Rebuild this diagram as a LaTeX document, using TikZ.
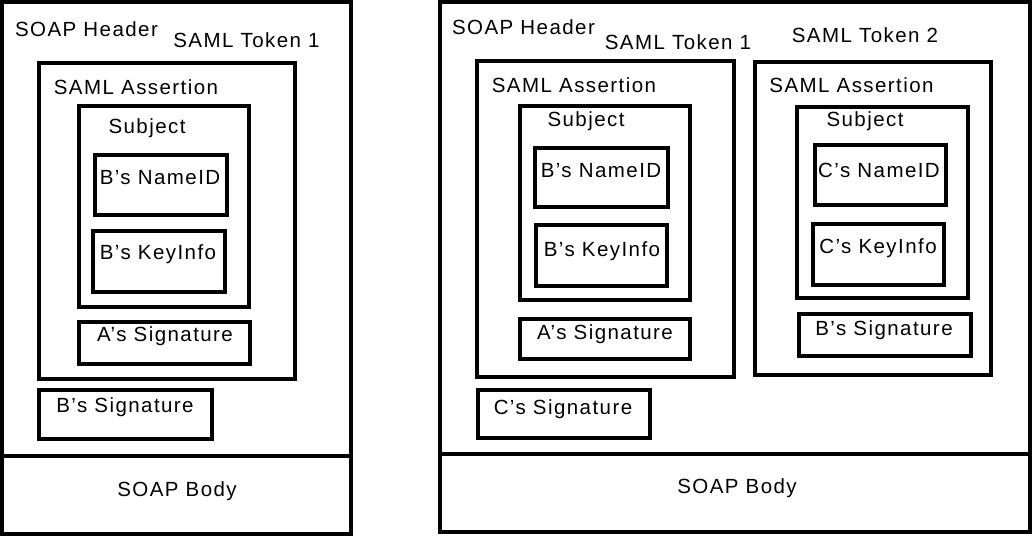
\documentclass[tikz,border=0pt]{standalone}
\usepackage{fontspec}
\setmainfont{Liberation Sans}[LetterSpace=7]
\begin{document}
\begin{tikzpicture}[x=1pt,y=-1pt,
  frame/.style={draw=black,line width=3.6pt,line join=miter},
  lbl/.style={anchor=base,inner sep=0pt,font=\fontsize{20.5}{24}\selectfont}]
\useasboundingbox (0,0) rectangle (1035,537);
% ---------- left message ----------
\draw[frame] (2,2) rectangle (351,534);
\draw[frame] (2,456) -- (351,456);
\draw[frame] (39,63) rectangle (295,379);
\draw[frame] (79,106) rectangle (249,307);
\draw[frame] (95,155) rectangle (227,215);
\draw[frame] (93,231) rectangle (225,292);
\draw[frame] (79,322) rectangle (250,364);
\draw[frame] (39,390) rectangle (212,439);
\node[lbl] (lhdr) at (86.5,37) {SOAP Header};
\node[lbl] (ltok) at (246.5,48) {SAML Token 1};
\node[lbl] (lass) at (136,95) {SAML Assertion};
\node[lbl] (lsub) at (147,134) {Subject};
\node[lbl] (lnid) at (160,185) {B’s NameID};
\node[lbl] (lkey) at (158,259) {B’s KeyInfo};
\node[lbl] (lasig) at (165,341) {A’s Signature};
\node[lbl] (lbsig) at (125,412) {B’s Signature};
\node[lbl] (lbody) at (177,496) {SOAP Body};
% ---------- right message ----------
\draw[frame] (440,2) rectangle (1030,532);
\draw[frame] (440,454) -- (1030,454);
\draw[frame] (477,61) rectangle (734,377);
\draw[frame] (520,106) rectangle (690,300);
\draw[frame] (535,148) rectangle (668,207);
\draw[frame] (536,225) rectangle (667,286);
\draw[frame] (520,319) rectangle (690,359);
\draw[frame] (478,390) rectangle (650,438);
\draw[frame] (755,62) rectangle (991,375);
\draw[frame] (797,107) rectangle (968,298);
\draw[frame] (815,145) rectangle (946,205);
\draw[frame] (813,224) rectangle (944,285);
\draw[frame] (799,314) rectangle (971,356);
\node[lbl] (rhdr) at (523.5,35) {SOAP Header};
\node[lbl] (rtok1) at (678,50) {SAML Token 1};
\node[lbl] (rtok2) at (865,43) {SAML Token 2};
\node[lbl] (rass1) at (574,93) {SAML Assertion};
\node[lbl] (rass2) at (851.5,93) {SAML Assertion};
\node[lbl] (rsub1) at (586,127) {Subject};
\node[lbl] (rsub2) at (865,127) {Subject};
\node[lbl] (rnid1) at (601,178) {B’s NameID};
\node[lbl] (rnid2) at (879,178) {C’s NameID};
\node[lbl] (rkey1) at (602,256) {B’s KeyInfo};
\node[lbl] (rkey2) at (878,253) {C’s KeyInfo};
\node[lbl] (rasig) at (605,339) {A’s Signature};
\node[lbl] (rbsig) at (884,335) {B’s Signature};
\node[lbl] (rcsig) at (563,414) {C’s Signature};
\node[lbl] (rbody) at (737,493) {SOAP Body};
\end{tikzpicture}
\end{document}
